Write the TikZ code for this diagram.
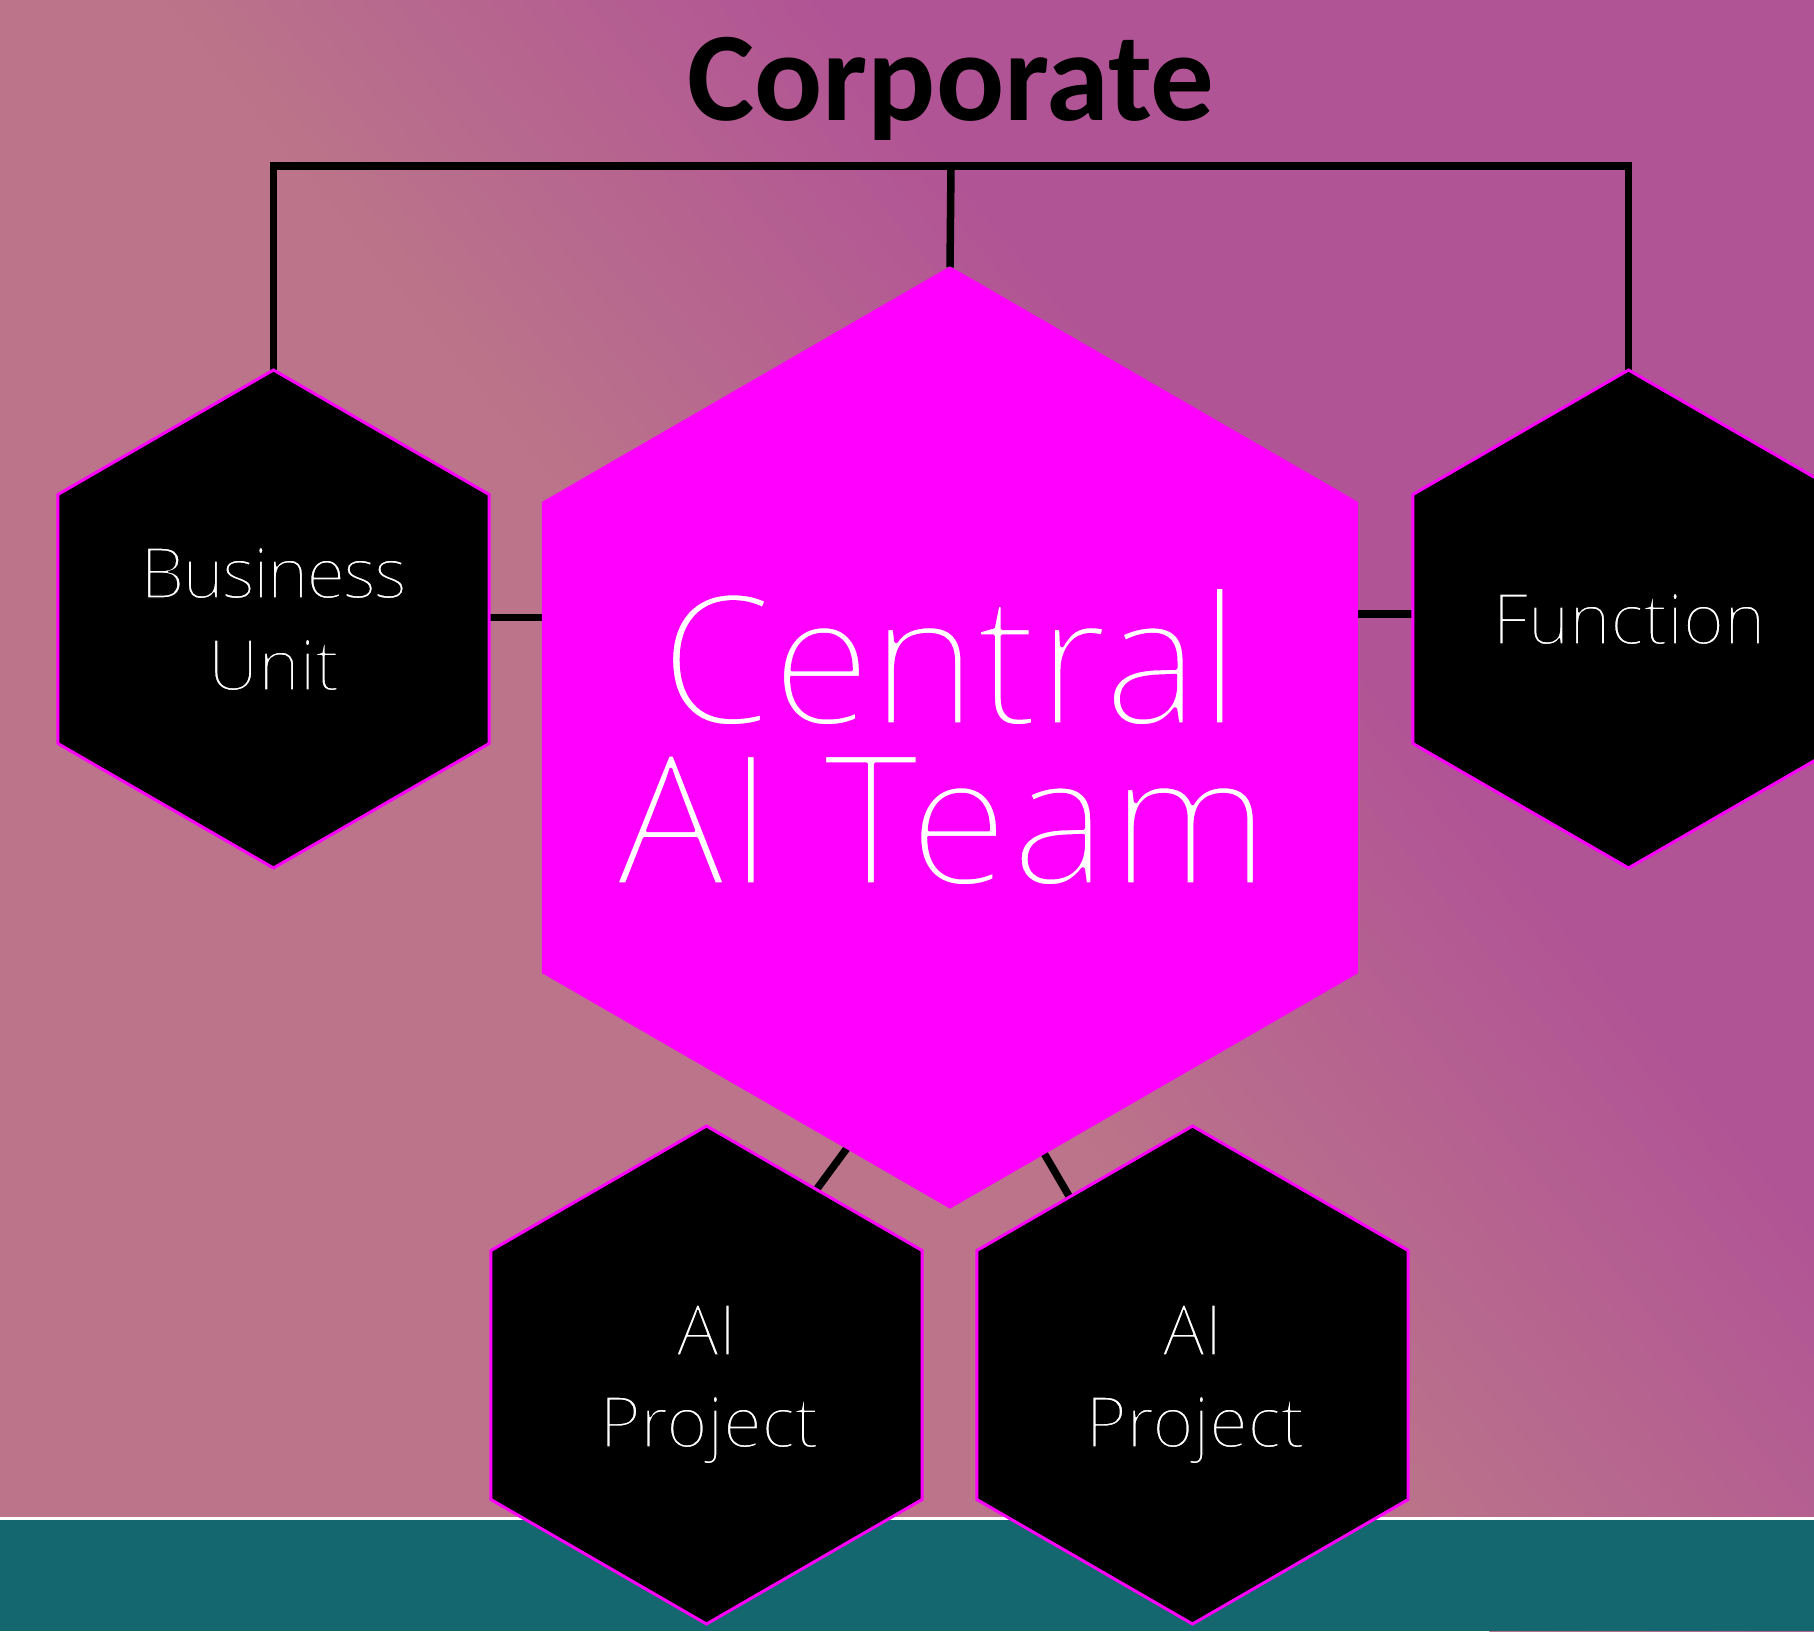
\documentclass[tikz,border=0pt]{standalone}
\usepackage{fontspec}
\setmainfont{Open Sans}
\newfontfamily\titlefont{Carlito}
\newfontfamily\lightfont{Open Sans Light}
\usetikzlibrary{shapes.geometric,calc}
\definecolor{pinkbg}{RGB}{187,116,138}
\definecolor{purbg}{RGB}{177,84,149}
\definecolor{tealbg}{RGB}{20,103,110}
\definecolor{hexmag}{RGB}{255,0,255}
\pgfdeclarelayer{bg}
\pgfdeclarelayer{lines}
\pgfsetlayers{bg,lines,main}
% thin the light face a little by stroking its outline in the colour behind it
\newcommand{\thinon}[2]{\special{pdf:literal direct #1 RG 2 Tr #2 w 1 j}}
\newcommand{\thinoff}{\special{pdf:literal direct 0 Tr}}
\newcommand{\onblack}[1]{\thinon{0 0 0}{1.3}#1\thinoff}
\newcommand{\onmag}[1]{\thinon{1 0 1}{3.2}#1\thinoff}
\tikzset{
  hexbase/.style={regular polygon, regular polygon sides=6, shape border rotate=30, inner sep=0pt, outer sep=0pt},
  smallhex/.style={hexbase, minimum size=498pt, fill=black, draw=hexmag, line width=3pt},
  bighex/.style={hexbase, minimum size=940pt, fill=hexmag, draw=hexmag, line width=2pt},
  conn/.style={draw=black, line width=7.5pt},
  smalllbl/.style={text=white, inner sep=0pt, anchor=base, font=\lightfont\fontsize{70}{90}\selectfont},
  biglbl/.style={text=white, inner sep=0pt, anchor=base, font=\lightfont\fontsize{180}{200}\selectfont},
  titlelbl/.style={text=black, inner sep=0pt, anchor=base, font=\titlefont\bfseries\fontsize{127}{140}\selectfont}
}
\begin{document}
\begin{tikzpicture}[x=1pt,y=-1pt]
\useasboundingbox (0,0) rectangle (1814,1631);
% background
\begin{pgfonlayer}{bg}
  \begin{scope}
    \clip (0,0) rectangle (1814,1631);
    \fill[pinkbg] (0,0) rectangle (1814,1631);
    \begin{scope}[shift={(1150,815)}, rotate=39]
      \foreach \i in {0,...,19}{
        \pgfmathtruncatemacro{\p}{\i*5+2}
        \fill[purbg!\p!pinkbg] ({-250+\i*25},-3000) rectangle ({-250+(\i+1)*25+2},3000);
      }
      \fill[purbg] (249,-3000) rectangle (3000,3000);
    \end{scope}
    \fill[white] (0,1516.5) rectangle (1814,1520);
    \fill[tealbg] (0,1520) rectangle (1814,1631);
  \end{scope}
\end{pgfonlayer}
% title
\node[titlelbl] (title) at (951,120) {Corporate};
% hexagons
\node[bighex] (cen) at (950,737.5) {};
\node[smallhex] (bu) at (273.5,619) {};
\node[smallhex] (fn) at (1628.5,619) {};
\node[smallhex] (ai1) at (706.5,1375) {};
\node[smallhex] (ai2) at (1192.5,1375) {};
% labels
\node[biglbl] (cen1) at (950,724) {\onmag{Central}};
\node[biglbl] (cen2) at (943,884) {\addfontfeature{LetterSpace=2}\onmag{AI Team}};
\node[smalllbl] (bu1) at (273.5,598) {\addfontfeature{LetterSpace=-2.5}\onblack{Business}};
\node[smalllbl] (bu2) at (273.5,690) {\onblack{Unit}};
\node[smalllbl] (fn1) at (1629,644) {\onblack{Function}};
\node[smalllbl] (ai1a) at (706.5,1355) {\onblack{AI}};
\node[smalllbl] (ai1b) at (709,1447) {\onblack{Project}};
\node[smalllbl] (ai2a) at (1192.5,1355) {\onblack{AI}};
\node[smalllbl] (ai2b) at (1195,1447) {\onblack{Project}};
% connectors
\begin{pgfonlayer}{lines}
  \coordinate (bar) at (951,166);
  \draw[conn, line join=miter] (bu.90) -- (bu.90 |- bar) -- (fn.90 |- bar) -- (fn.90);
  \draw[conn] (bar) -- (cen.90);
  \draw[conn] ([yshift=1.5pt]bu.0) -- ([yshift=1.5pt]bu.0 -| cen.180);
  \draw[conn] ([yshift=5pt]fn.180) -- ([yshift=5pt]fn.180 -| cen.0);
  \draw[conn] ($(cen.210)!0.747!(cen.270)$) -- ($(ai1.90)!0.51!(ai1.30)$);
  \draw[conn] ($(cen.330)!0.769!(cen.270)$) -- ($(ai2.90)!0.57!(ai2.150)$);
\end{pgfonlayer}
\end{tikzpicture}
\end{document}
